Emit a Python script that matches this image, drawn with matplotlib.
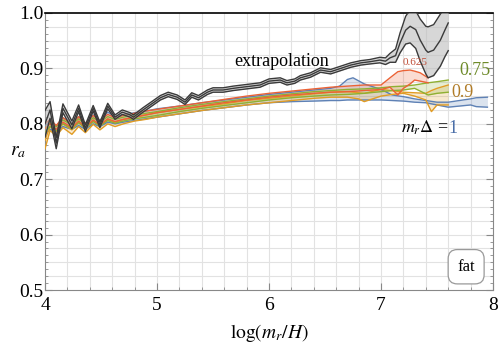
import numpy as np
from matplotlib import pyplot as plt

plt.rcParams['font.family'] = ['Liberation Serif', 'DejaVu Serif']
plt.rcParams['mathtext.fontset'] = 'stix'

# extrapolation curve (centre and half width of the band)
ext_x = [4.0, 4.045, 4.10, 4.16, 4.24, 4.30, 4.36, 4.43, 4.49, 4.56, 4.625, 4.69, 4.76, 4.79,
         4.875, 4.96, 5.03, 5.10, 5.18, 5.25, 5.31, 5.37, 5.45, 5.50, 5.59, 5.68, 5.80, 5.92,
         6.0, 6.10, 6.16, 6.23, 6.28, 6.37, 6.46, 6.55, 6.64, 6.73, 6.82, 6.90, 6.99, 7.04,
         7.08, 7.13, 7.17, 7.22, 7.26, 7.31, 7.35, 7.40, 7.42, 7.47, 7.53, 7.57, 7.60]
ext_y = [0.800, 0.825, 0.765, 0.828, 0.798, 0.828, 0.792, 0.828, 0.798, 0.832, 0.812, 0.821, 0.816, 0.812,
         0.825, 0.837, 0.847, 0.853, 0.848, 0.839, 0.852, 0.847, 0.857, 0.861, 0.861, 0.864, 0.867, 0.870,
         0.877, 0.879, 0.874, 0.877, 0.883, 0.888, 0.897, 0.894, 0.900, 0.906, 0.910, 0.912, 0.915, 0.913,
         0.919, 0.923, 0.946, 0.969, 0.976, 0.970, 0.951, 0.933, 0.929, 0.933, 0.951, 0.969, 0.982]
ext_w = [0.024, 0.015, 0.010, 0.008, 0.007, 0.006, 0.006, 0.005, 0.005, 0.005, 0.004, 0.004, 0.004, 0.004,
         0.004, 0.004, 0.004, 0.004, 0.004, 0.004, 0.004, 0.004, 0.004, 0.004, 0.004, 0.004, 0.004, 0.004,
         0.004, 0.004, 0.004, 0.004, 0.004, 0.004, 0.004, 0.004, 0.004, 0.004, 0.004, 0.004, 0.005, 0.006,
         0.008, 0.012, 0.018, 0.025, 0.030, 0.034, 0.038, 0.043, 0.046, 0.046, 0.047, 0.048, 0.050]

# common early x grid for the coloured bands
base_x = [4.0, 4.045, 4.10, 4.16, 4.24, 4.30, 4.36, 4.43, 4.49, 4.56, 4.625, 4.70, 4.80, 4.90,
          5.0, 5.2, 5.4, 5.6, 5.8, 6.0, 6.2, 6.4]

# m_r Delta = 1 (blue)
blue_x = base_x + [6.55, 6.63, 6.70, 6.75, 6.85, 7.0, 7.1, 7.2, 7.3, 7.4, 7.5, 7.6, 7.7, 7.8, 7.85, 7.95]
blue_lo = [0.780, 0.790, 0.785, 0.795, 0.790, 0.797, 0.790, 0.800, 0.795, 0.803, 0.800, 0.803, 0.806, 0.809,
           0.812, 0.818, 0.824, 0.829, 0.834, 0.838, 0.840, 0.841,
           0.842, 0.842, 0.843, 0.843, 0.843, 0.843, 0.842, 0.841, 0.839, 0.838, 0.834, 0.830, 0.832, 0.834, 0.831, 0.830]
blue_hi = [0.797, 0.806, 0.796, 0.811, 0.801, 0.813, 0.801, 0.816, 0.806, 0.821, 0.813, 0.816, 0.820, 0.823,
           0.827, 0.832, 0.838, 0.843, 0.848, 0.853, 0.857, 0.861,
           0.864, 0.868, 0.880, 0.883, 0.872, 0.862, 0.852, 0.849, 0.845, 0.842, 0.839, 0.839, 0.842, 0.845, 0.847, 0.848]

# m_r Delta = 0.9 (orange)
orange_x = base_x + [6.55, 6.70, 6.80, 6.85, 7.0, 7.1, 7.2, 7.3, 7.4, 7.45, 7.5, 7.6]
orange_lo = [0.755, 0.788, 0.778, 0.793, 0.781, 0.795, 0.784, 0.799, 0.789, 0.800, 0.795, 0.800, 0.805, 0.808,
             0.812, 0.818, 0.824, 0.829, 0.834, 0.838, 0.842, 0.846,
             0.848, 0.848, 0.845, 0.840, 0.850, 0.853, 0.855, 0.850, 0.843, 0.822, 0.834, 0.834]
orange_hi = [0.770, 0.796, 0.786, 0.800, 0.789, 0.803, 0.792, 0.806, 0.797, 0.808, 0.803, 0.808, 0.812, 0.816,
             0.820, 0.826, 0.831, 0.836, 0.842, 0.846, 0.850, 0.854,
             0.857, 0.858, 0.856, 0.855, 0.862, 0.860, 0.857, 0.856, 0.855, 0.860, 0.864, 0.870]

# m_r Delta = 0.75 (green)
green_x = base_x + [6.55, 6.70, 6.85, 7.0, 7.1, 7.2, 7.3, 7.42, 7.5, 7.6]
green_lo = [0.785, 0.795, 0.788, 0.800, 0.791, 0.802, 0.792, 0.804, 0.796, 0.806, 0.801, 0.805, 0.809, 0.812,
            0.815, 0.822, 0.828, 0.833, 0.838, 0.843, 0.847, 0.850,
            0.852, 0.853, 0.855, 0.858, 0.860, 0.861, 0.864, 0.852, 0.855, 0.857]
green_hi = [0.792, 0.802, 0.795, 0.807, 0.798, 0.809, 0.799, 0.811, 0.803, 0.813, 0.808, 0.812, 0.816, 0.819,
            0.822, 0.829, 0.835, 0.840, 0.845, 0.850, 0.854, 0.858,
            0.860, 0.862, 0.863, 0.865, 0.867, 0.868, 0.870, 0.874, 0.876, 0.879]

# m_r Delta = 0.625 (red)
red_x = base_x + [6.55, 6.70, 6.85, 7.0, 7.08, 7.15, 7.2, 7.26, 7.3, 7.35, 7.42]
red_lo = [0.792, 0.800, 0.790, 0.803, 0.793, 0.805, 0.794, 0.807, 0.798, 0.809, 0.804, 0.808, 0.812, 0.816,
          0.820, 0.826, 0.832, 0.838, 0.843, 0.848, 0.852, 0.855,
          0.857, 0.858, 0.860, 0.862, 0.866, 0.852, 0.864, 0.872, 0.879, 0.877, 0.874]
red_hi = [0.800, 0.808, 0.797, 0.811, 0.800, 0.813, 0.801, 0.815, 0.805, 0.817, 0.811, 0.815, 0.819, 0.823,
          0.826, 0.832, 0.838, 0.844, 0.850, 0.855, 0.859, 0.863,
          0.866, 0.868, 0.870, 0.870, 0.883, 0.894, 0.896, 0.897, 0.895, 0.892, 0.883]

bands = [
    (blue_x, blue_lo, blue_hi, '#5E81B5'),
    (orange_x, orange_lo, orange_hi, '#E19C24'),
    (green_x, green_lo, green_hi, '#8FB032'),
    (red_x, red_lo, red_hi, '#EB6235'),
]

fig = plt.figure(figsize=(4.98, 3.5), dpi=100)
ax = fig.add_axes([0.0904, 0.1714, 0.8996, 0.7915])

ax.set_xlim(4, 8)
ax.set_ylim(0.5, 1.0)

# grid
for gx in np.arange(4.2, 8.0, 0.2):
    ax.axvline(gx, color='#e2e2e2', lw=0.8, zorder=0)
for gy in np.arange(0.525, 1.0, 0.025):
    ax.axhline(gy, color='#e2e2e2', lw=0.8, zorder=0)

for bx, lo, hi, c in bands:
    ax.fill_between(bx, lo, hi, color=c, alpha=0.22, lw=0, zorder=2)
    ax.plot(bx, lo, color=c, lw=1.0, zorder=3, solid_joinstyle='round')
    ax.plot(bx, hi, color=c, lw=1.0, zorder=3, solid_joinstyle='round')

ext_y = np.array(ext_y)
ext_w = np.array(ext_w)
ax.fill_between(ext_x, ext_y - ext_w, ext_y + ext_w, color='#bdbdbd', alpha=0.6, lw=0, zorder=4)
for yy in (ext_y - ext_w, ext_y + ext_w, ext_y):
    ax.plot(ext_x, yy, color='#3a3a3a', lw=1.0, zorder=5, solid_joinstyle='round')

# labels on the curves
ax.text(6.11, 0.912, 'extrapolation', fontsize=13, ha='center', va='center', zorder=6)
ax.text(7.30, 0.91, '0.625', fontsize=8, color='#C0503A', ha='center', va='center', zorder=6)
ax.text(7.84, 0.897, '0.75', fontsize=13, color='#6E8B2A', ha='center', va='center', zorder=6)
ax.text(7.73, 0.857, '0.9', fontsize=13, color='#B07C28', ha='center', va='center', zorder=6)
ax.text(7.60, 0.792, r'$m_r\Delta$ =', fontsize=13, ha='right', va='center', zorder=6)
ax.text(7.60, 0.792, '1', fontsize=13, color='#4A6EA8', ha='left', va='center', zorder=6)

ax.text(7.76, 0.542, 'fat', fontsize=12, ha='center', va='center',
        bbox=dict(boxstyle='round,pad=0.55', fc='white', ec='#999999', lw=0.9))

# axes styling
ax.set_xticks([4, 5, 6, 7, 8])
ax.set_xticks(np.arange(4, 8.01, 0.2), minor=True)
ax.set_yticks([0.5, 0.6, 0.7, 0.8, 0.9, 1.0])
ax.set_yticklabels(['0.5', '0.6', '0.7', '0.8', '0.9', '1.0'])
ax.set_yticks(np.arange(0.5, 1.0001, 0.0125), minor=True)
ax.tick_params(axis='both', which='both', direction='in', colors='#888888', labelcolor='black',
               labelsize=14, right=True)
ax.tick_params(which='major', length=5)
ax.tick_params(which='minor', length=2.5)
ax.tick_params(axis='x', pad=5)
ax.tick_params(axis='y', pad=1)

for side in ['left', 'bottom', 'right']:
    ax.spines[side].set_color('#888888')
ax.spines['top'].set_color('black')
ax.spines['top'].set_linewidth(1.2)

ax.set_xlabel(r'$\log(m_r/H)$', fontsize=14, labelpad=6)
ax.set_ylabel(r'$r_a$', fontsize=14, rotation=0, va='center')
ax.yaxis.set_label_coords(-0.06, 0.5)

fig.savefig('out.png', dpi=100)
